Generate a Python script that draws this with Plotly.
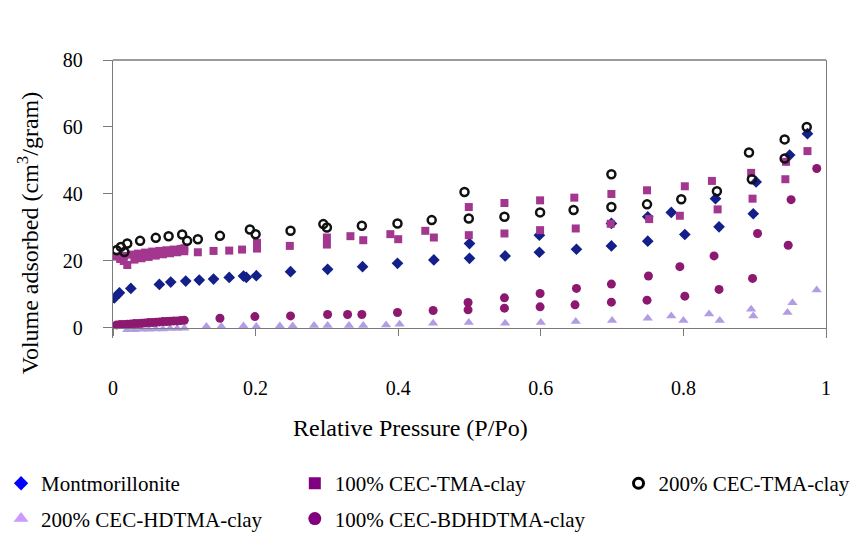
import plotly.graph_objects as go

# ---------------- data ----------------
mont_x = [0.002, 0.009, 0.025, 0.065, 0.081, 0.102, 0.121, 0.141, 0.163, 0.183, 0.187, 0.201,
          0.249, 0.301, 0.350, 0.399, 0.450, 0.500, 0.500, 0.550, 0.598, 0.598, 0.650, 0.699,
          0.699, 0.750, 0.750, 0.783, 0.802, 0.845, 0.850, 0.898, 0.902, 0.949, 0.974]
mont_y = [9.0, 10.5, 11.8, 13.0, 13.7, 14.0, 14.3, 14.6, 15.1, 15.5, 15.1, 15.6,
          16.8, 17.5, 18.3, 19.3, 20.3, 20.8, 25.2, 21.5, 22.6, 27.7, 23.5, 24.5,
          31.2, 25.9, 33.2, 34.5, 27.9, 38.6, 30.2, 34.1, 43.6, 51.6, 58.0]

tma100_x = [0.005, 0.010, 0.015, 0.020, 0.030, 0.040, 0.050, 0.060, 0.070, 0.080, 0.090, 0.100,
            0.015, 0.025, 0.035, 0.045, 0.055, 0.065, 0.075, 0.085, 0.095, 0.100,
            0.119, 0.141, 0.163, 0.181, 0.202, 0.202, 0.248, 0.300, 0.300, 0.333, 0.351,
            0.389, 0.400, 0.438, 0.450, 0.499, 0.499, 0.549, 0.549, 0.599, 0.599, 0.647,
            0.649, 0.699, 0.698, 0.749, 0.752, 0.802, 0.795, 0.840, 0.848, 0.895, 0.897,
            0.944, 0.943, 0.974]
tma100_y = [21.3, 20.6, 20.0, 18.8, 20.4, 20.8, 21.2, 21.6, 22.0, 22.3, 22.6, 22.9,
            21.5, 21.9, 22.2, 22.5, 22.8, 23.0, 23.2, 23.4, 23.6, 23.8,
            22.6, 23.0, 23.1, 23.4, 25.4, 23.7, 24.5, 27.0, 24.9, 27.4, 26.2,
            28.0, 26.5, 29.0, 27.0, 36.1, 27.7, 37.3, 28.2, 38.1, 29.2, 38.9,
            29.7, 40.0, 31.1, 41.1, 32.5, 42.3, 33.5, 43.9, 35.4, 46.3, 38.6,
            49.6, 44.4, 52.8]

tma200_x = [0.005, 0.011, 0.016, 0.020, 0.038, 0.060, 0.078, 0.097, 0.104, 0.119, 0.150, 0.192,
            0.200, 0.249, 0.295, 0.300, 0.349, 0.399, 0.447, 0.493, 0.499, 0.549, 0.599, 0.646,
            0.699, 0.699, 0.749, 0.797, 0.847, 0.892, 0.896, 0.942, 0.942, 0.973]
tma200_y = [23.2, 24.2, 22.7, 25.2, 26.0, 26.9, 27.4, 27.9, 26.0, 26.5, 27.5, 29.4,
            28.0, 29.0, 31.0, 30.0, 30.5, 31.2, 32.2, 40.6, 32.7, 33.2, 34.5, 35.2,
            45.9, 36.1, 36.9, 38.4, 40.8, 52.4, 44.4, 56.3, 50.6, 60.0]

hd_x = [0.020, 0.030, 0.040, 0.050, 0.060, 0.070, 0.080, 0.090, 0.100,
        0.131, 0.152, 0.183, 0.201, 0.234, 0.252, 0.282, 0.301, 0.331, 0.351, 0.383, 0.402,
        0.449, 0.499, 0.550, 0.600, 0.649, 0.700, 0.750, 0.783, 0.800, 0.836, 0.851, 0.895,
        0.898, 0.946, 0.953, 0.987]
hd_y = [-0.5, -0.5, -0.4, -0.4, -0.3, -0.3, -0.2, -0.2, -0.1,
        0.4, 0.4, 0.6, 0.4, 0.6, 0.6, 0.7, 0.7, 0.7, 0.7, 0.9, 1.1,
        1.4, 1.6, 1.4, 1.6, 1.9, 2.2, 2.9, 3.6, 2.2, 4.2, 2.2, 5.6,
        3.6, 4.6, 7.5, 11.3]

bd_x = [0.005, 0.010, 0.015, 0.020, 0.025, 0.030, 0.035, 0.040, 0.045, 0.050,
        0.055, 0.060, 0.065, 0.070, 0.075, 0.080, 0.085, 0.090, 0.095, 0.100,
        0.150, 0.199, 0.249, 0.301, 0.329, 0.349, 0.399, 0.449, 0.498, 0.498,
        0.549, 0.549, 0.599, 0.599, 0.648, 0.650, 0.699, 0.699, 0.749, 0.751,
        0.802, 0.795, 0.850, 0.843, 0.897, 0.904, 0.947, 0.951, 0.987]
bd_y = [0.9, 1.0, 1.0, 1.1, 1.2, 1.3, 1.3, 1.4, 1.5, 1.6,
        1.6, 1.7, 1.8, 1.9, 1.9, 2.0, 2.1, 2.1, 2.2, 2.3,
        2.9, 3.4, 3.6, 4.0, 4.0, 4.0, 4.6, 5.2, 5.4, 7.6,
        5.9, 9.0, 6.3, 10.3, 6.9, 11.8, 7.7, 13.1, 8.3, 15.5,
        9.5, 18.3, 11.5, 21.5, 14.8, 28.2, 24.7, 38.3, 47.6]

x_ticks = [0, 0.2, 0.4, 0.6, 0.8, 1]
x_tick_text = ["0", "0.2", "0.4", "0.6", "0.8", "1"]
y_ticks = [0, 20, 40, 60, 80]

FONT = "Liberation Serif"
AXC = "#7a7a7a"

fig = go.Figure()

# plotted series (scan colours)
fig.add_trace(go.Scatter(x=mont_x, y=mont_y, mode="markers", showlegend=False,
                         marker=dict(symbol="diamond", size=9, color="#14208a")))
fig.add_trace(go.Scatter(x=tma100_x, y=tma100_y, mode="markers", showlegend=False,
                         marker=dict(symbol="square", size=8, color="#a3378f")))
fig.add_trace(go.Scatter(x=tma200_x, y=tma200_y, mode="markers", showlegend=False,
                         marker=dict(symbol="circle-open", size=8, color="#111111",
                                     line=dict(width=2.5, color="#111111"))))
fig.add_trace(go.Scatter(x=hd_x, y=hd_y, mode="markers", showlegend=False,
                         marker=dict(symbol="triangle-up", size=9, color="#b29ce4")))
fig.add_trace(go.Scatter(x=bd_x, y=bd_y, mode="markers", showlegend=False,
                         marker=dict(symbol="circle", size=9, color="#8c1870")))

# legend entries (legend colours)
legend_items = [
    ("Montmorillonite", dict(symbol="diamond", size=11, color="#0000ff"), "legend"),
    ("100% CEC-TMA-clay", dict(symbol="square", size=12, color="#800080"), "legend2"),
    ("200% CEC-TMA-clay", dict(symbol="circle-open", size=10, color="#000000",
                               line=dict(width=3, color="#000000")), "legend3"),
    ("200% CEC-HDTMA-clay", dict(symbol="triangle-up", size=13, color="#cc99ff"), "legend"),
    ("100% CEC-BDHDTMA-clay", dict(symbol="circle", size=13, color="#800080"), "legend2"),
]
for i, (name, mk, lg) in enumerate(legend_items):
    fig.add_trace(go.Scatter(x=[None], y=[None], mode="markers", name=name, marker=mk,
                             legend=lg, legendgroup="g%d" % i, showlegend=True))

leg_common = dict(orientation="v", xanchor="left", yanchor="top", y=-0.45,
                  bgcolor="rgba(0,0,0,0)", borderwidth=0, traceorder="grouped",
                  tracegroupgap=5, font=dict(family=FONT, size=21, color="black"))

fig.update_layout(
    width=852, height=533,
    margin=dict(l=113, r=26, t=60, b=195, autoexpand=False),
    paper_bgcolor="white", plot_bgcolor="white",
    font=dict(family=FONT, size=20, color="black"),
    legend=dict(x=-0.157, **leg_common),
    legend2=dict(x=0.255, **leg_common),
    legend3=dict(x=0.709, **leg_common),
    xaxis=dict(range=[0, 1], tickvals=x_ticks, ticktext=x_tick_text, ticks="",
               showline=False, showgrid=False, zeroline=False, ticklabelstandoff=36,
               automargin=False, tickfont=dict(family=FONT, size=20, color="black")),
    xaxis2=dict(range=[0, 1], overlaying="x", anchor="free", position=3 / 83,
                tickvals=x_ticks, ticks="outside", ticklen=7, tickcolor=AXC, tickwidth=1.3,
                showticklabels=False, showline=True, linecolor=AXC, linewidth=1.3,
                showgrid=False, zeroline=False),
    yaxis=dict(range=[-3, 80], tickvals=y_ticks, ticks="outside", ticklen=9,
               tickcolor=AXC, tickwidth=1.3, showline=True, linecolor=AXC, linewidth=1.3,
               mirror=True, showgrid=False, zeroline=False, ticklabelstandoff=16,
               automargin=False, tickfont=dict(family=FONT, size=20, color="black")),
    shapes=[dict(type="line", xref="paper", yref="paper", x0=0, x1=1, y0=1, y1=1,
                 line=dict(color=AXC, width=1.3))],
    annotations=[
        dict(text="Volume adsorbed (cm<sup>3</sup>/gram)", textangle=-90, showarrow=False,
             xref="paper", yref="paper", x=-0.12, y=0.378, xanchor="center", yanchor="middle",
             font=dict(family=FONT, size=24, color="black")),
        dict(text="Relative Pressure (P/Po)", showarrow=False,
             xref="paper", yref="paper", x=0.4166, y=-0.324, xanchor="center", yanchor="middle",
             font=dict(family=FONT, size=24, color="black")),
    ],
)

# attach a hidden trace to xaxis2 so the y=0 axis line is drawn
fig.add_trace(go.Scatter(x=[None], y=[None], xaxis="x2", yaxis="y", showlegend=False,
                         mode="markers"))

fig.write_html("out.html", config={"displayModeBar": False},
               post_script="document.body.style.margin='0px';document.body.style.overflow='hidden';")
